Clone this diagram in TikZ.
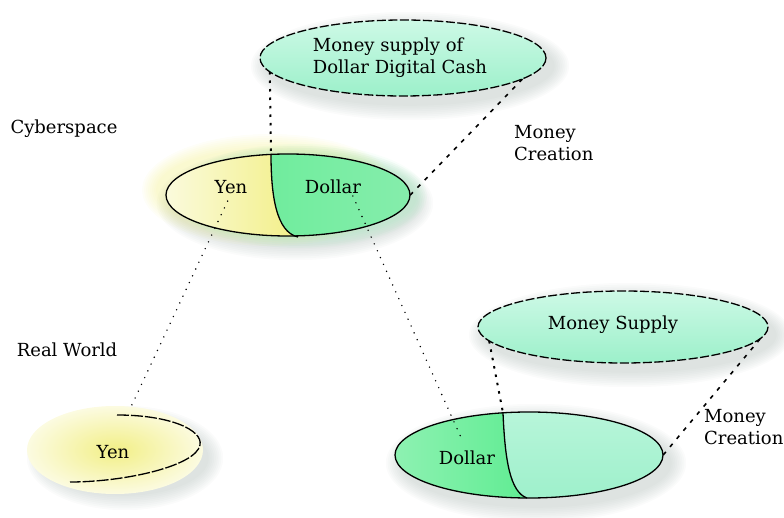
\documentclass[tikz,border=0pt]{standalone}
\usepackage{fontspec}
\setmainfont{DejaVu Serif}
\usetikzlibrary{shapes.geometric}
\definecolor{mintA}{HTML}{CDF9E6}
\definecolor{mintB}{HTML}{9CF0CA}
\definecolor{yenA}{HTML}{FBFBE0}
\definecolor{yenB}{HTML}{F2EF86}
\definecolor{dolA}{HTML}{5FEC92}
\definecolor{dolB}{HTML}{86EDAC}
\definecolor{halo}{HTML}{9AAAA4}
\newcommand\myhalo[5]{%
  \foreach \k in {1,...,9}{%
    \fill[#5, opacity=0.045] (#1+7,#2+8) ellipse ({#3+\k*1.8} and {#4+\k*1.8});}}
\begin{document}
\begin{tikzpicture}[x=1pt,y=-1pt,
  lbl/.style={font=\fontsize{18}{22}\selectfont, inner sep=0pt, text=black},
  area/.style={ellipse, inner sep=0pt},
  sqdot/.style={line width=2pt, dash pattern=on 2.5pt off 6pt},
  dashln/.style={line width=1.6pt, dash pattern=on 4pt off 6.5pt},
  thindot/.style={line width=1.6pt, dash pattern=on 0pt off 7.5pt, line cap=round},
  outline/.style={line width=1.3pt},
  dashoutline/.style={line width=1.3pt, dash pattern=on 9pt off 2.5pt},
  ]
\useasboundingbox (0,0) rectangle (784,518);

% ---------- anchor nodes for the areas ----------
\node[area, minimum width=286pt, minimum height=76pt] (top) at (403,58) {};
\node[area, minimum width=244pt, minimum height=82pt] (mid) at (288,195) {};
\node[area, minimum width=290pt, minimum height=72pt] (msup) at (623,327) {};
\node[area, minimum width=268pt, minimum height=86pt] (low) at (529,455) {};
\coordinate (dtop) at (271,154);
\coordinate (dbot) at (298,237);
\coordinate (ltop) at (503,413);
\coordinate (lbot) at (527,498);

% ---------- halos ----------
\myhalo{403}{58}{143}{38}{halo}
\myhalo{623}{327}{145}{36}{halo}
\myhalo{529}{455}{134}{43}{halo}
\myhalo{118}{450}{82}{36}{halo}
\myhalo{288}{195}{122}{41}{halo}
\foreach \k in {1,...,8}{\fill[yenB, opacity=0.06] (270,190) ellipse ({112+\k*2} and {40+\k*2});}
\foreach \k in {1,...,6}{\fill[dolB, opacity=0.05] (300,196) ellipse ({115+\k*2} and {40+\k*2});}

% ---------- top ellipse ----------
\shade[top color=mintA, bottom color=mintB] (top.center) ellipse (143 and 38);
\draw[dashoutline] (top.center) ellipse (143 and 38);

% ---------- middle ellipse ----------
\begin{scope}
  \clip (mid.center) ellipse (122 and 41);
  \shade[left color=dolA, right color=dolB] (160,150) rectangle (415,240);
  \shade[left color=yenA, right color=yenB]
    (160,150) -- (dtop) .. controls (271,195) and (276,232) .. (dbot) -- (300,245) -- (160,245) -- cycle;
\end{scope}
\draw[outline] (mid.center) ellipse (122 and 41);
\draw[outline] (dtop) .. controls (271,195) and (276,232) .. (dbot);

% ---------- money supply ellipse ----------
\shade[top color=mintA, bottom color=mintB] (msup.center) ellipse (145 and 36);
\draw[dashoutline] (msup.center) ellipse (145 and 36);

% ---------- lower ellipse ----------
\begin{scope}
  \clip (low.center) ellipse (134 and 43);
  \shade[top color=mintA!60!mintB, bottom color=mintB] (390,405) rectangle (670,505);
  \shade[left color=dolA!70!white, right color=dolA]
    (390,405) -- (ltop) .. controls (505,460) and (510,492) .. (lbot) -- (530,505) -- (390,505) -- cycle;
\end{scope}
\draw[outline] (low.center) ellipse (134 and 43);
\draw[outline] (ltop) .. controls (505,460) and (510,492) .. (lbot);

% ---------- lower-left yen ----------
\shade[inner color=yenB, outer color=yenB!25!white] (115,450) ellipse (88 and 44);
\draw[line width=1.3pt, dash pattern=on 12pt off 2pt]
  (117,415) .. controls (170,415) and (203,430) .. (200,445)
  .. controls (196,466) and (125,482) .. (70,482);

% ---------- labels ----------
\node[lbl, align=left] (mtxt) at (400,58) {Money supply of\\Dollar Digital Cash};
\node[lbl] (cyber) at (64,129) {Cyberspace};
\node[lbl] (real) at (67,350) {Real World};
\node[lbl] (yenM) at (231,187) {Yen};
\node[lbl] (dolM) at (333,187) {Dollar};
\node[lbl, align=left, anchor=west] (mc1) at (514,143) {Money\\Creation};
\node[lbl] (mstxt) at (613,325) {Money Supply};
\node[lbl] (dolL) at (467,458) {Dollar};
\node[lbl, align=left, anchor=west] (mc2) at (704,427) {Money\\Creation};
\node[lbl] (yenL) at (113,452) {Yen};

% ---------- connectors ----------
\draw[sqdot] (top.186) -- (dtop);
\draw[dashln] (top.-10) -- (mid.east);
\draw[thindot, shorten <=8pt, shorten >=38pt] (yenM.south) -- (yenL.north);
\draw[thindot, shorten <=2pt, shorten >=10pt] ([xshift=19pt]dolM.south) -- (dolL.north);
\draw[sqdot] (msup.186) -- (ltop);
\draw[dashln] (msup.-5) -- (low.east);
\end{tikzpicture}
\end{document}
